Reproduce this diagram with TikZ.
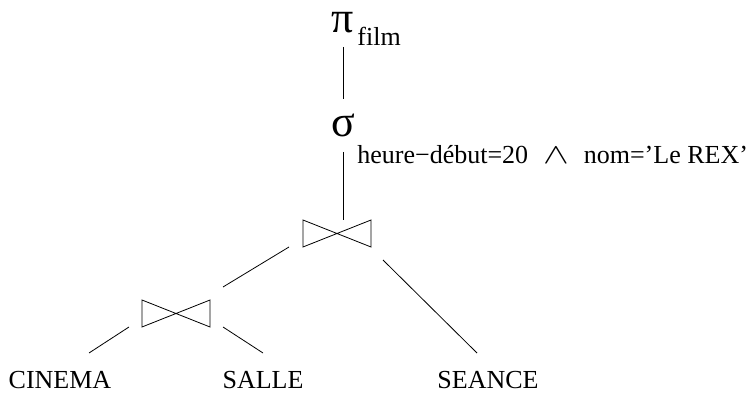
\documentclass[tikz,border=0pt]{standalone}
\usepackage{fontspec}
\setmainfont{Liberation Serif}
\usepackage{tikz}

\begin{document}
\begin{tikzpicture}[x=1pt, y=-1pt, line width=0.8pt,
  lbl/.style={font=\fontsize{26}{30}\selectfont, inner sep=0pt},
  op/.style={font=\fontsize{44}{48}\selectfont, inner sep=0pt}]
  \useasboundingbox (0,0) rectangle (753,395);
  % ------- projection and selection -------
  \node[op, anchor=base] (pi) at (343,33) {π};
  \node[lbl, anchor=base west] (proj) at (357,46) {film};
  \node[op, anchor=base] (sigma) at (343,137) {σ};
  \node[lbl, anchor=base west] (cond) at (357,164)
    {heure−début=20\hspace{0.6em}\scalebox{1.55}[1.15]{$\wedge$}\hspace{0.55em}nom='Le REX'};
  \coordinate (pi-s) at (343,47);
  \coordinate (sigma-n) at (343,99);
  \coordinate (sigma-s) at (343,152);
  \draw (pi-s) -- (sigma-n);
  % ------- joins (bowties) -------
  \coordinate (join1) at (337,233.5);
  \coordinate (join2) at (176,313.5);
  \draw (join1) ++(-34,-13.5) -- ++(68,27) -- ++(0,-27) -- ++(-68,27) -- cycle;
  \draw (join2) ++(-34,-13.5) -- ++(68,27) -- ++(0,-27) -- ++(-68,27) -- cycle;
  \coordinate (join1-n) at (343,220);
  \draw (sigma-s) -- (join1-n);
  % ------- relations -------
  \node[lbl, anchor=base] (cinema) at (60,389) {CINEMA};
  \node[lbl, anchor=base] (salle) at (263,389) {SALLE};
  \node[lbl, anchor=base] (seance) at (488,389) {SEANCE};
  % edge ends
  \coordinate (join1-sw) at (289,247);
  \coordinate (join2-ne) at (223,287);
  \coordinate (join1-se) at (383,260);
  \coordinate (seance-n) at (477,353);
  \coordinate (join2-sw) at (129,327);
  \coordinate (cinema-n) at (89,353);
  \coordinate (join2-se) at (223,327);
  \coordinate (salle-n) at (263,353);
  \draw (join1-sw) -- (join2-ne);
  \draw (join1-se) -- (seance-n);
  \draw (join2-sw) -- (cinema-n);
  \draw (join2-se) -- (salle-n);
\end{tikzpicture}
\end{document}
